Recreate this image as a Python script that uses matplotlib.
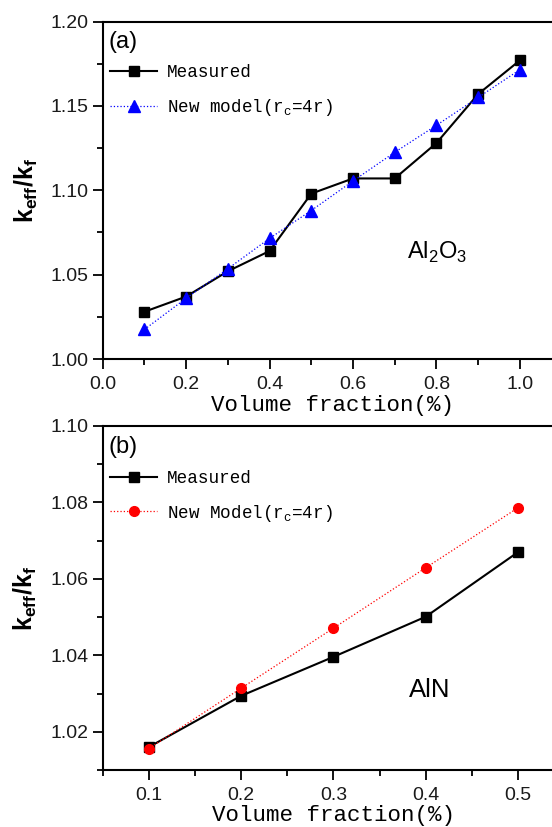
import matplotlib
matplotlib.use("Agg")
import matplotlib.pyplot as plt
from matplotlib.ticker import MultipleLocator, FormatStrFormatter

# panel (a): Al2O3
vf_a = [0.1, 0.2, 0.3, 0.4, 0.5, 0.6, 0.7, 0.8, 0.9, 1.0]
measured_a = [1.028, 1.037, 1.052, 1.064, 1.098, 1.107, 1.107, 1.128, 1.157, 1.177]
model_a = [1.0175, 1.036, 1.0535, 1.0715, 1.088, 1.1055, 1.1225, 1.1385, 1.155, 1.1715]

# panel (b): AlN
vf_b = [0.1, 0.2, 0.3, 0.4, 0.5]
measured_b = [1.016, 1.0294, 1.0396, 1.0501, 1.067]
model_b = [1.0156, 1.0314, 1.0471, 1.0629, 1.0786]

plt.rcParams['font.family'] = ['Liberation Sans', 'DejaVu Sans']
plt.rcParams['axes.linewidth'] = 1.5

MONO = 'Liberation Mono'
TICKCOL = '#1a1a1a'

fig = plt.figure(figsize=(5.52, 8.27), dpi=100)
ax1 = fig.add_axes([0.186, 0.5659, 0.8315, 0.4081])
ax2 = fig.add_axes([0.186, 0.0689, 0.836, 0.416])


def style(ax):
    ax.spines['right'].set_visible(False)
    ax.tick_params(which='both', direction='out', width=1.3, colors='black',
                   labelcolor=TICKCOL, labelsize=14, top=False, right=False)
    ax.tick_params(which='major', length=7)
    ax.tick_params(which='minor', length=4)
    ax.tick_params(axis='x', pad=5)
    ax.tick_params(axis='y', pad=3)


# ---- top panel
ax1.plot(vf_a, measured_a, color='black', lw=1.5, marker='s', ms=7,
         label='Measured', zorder=3)
ax1.plot(vf_a, model_a, color='blue', lw=0.9, ls=':', marker='^', ms=9,
         label='New model(r$_\\mathregular{c}$=4r)', zorder=4)
ax1.set_xlim(0, 1.1)
ax1.set_ylim(1.0, 1.2)
ax1.xaxis.set_major_locator(MultipleLocator(0.2))
ax1.xaxis.set_minor_locator(MultipleLocator(0.1))
ax1.yaxis.set_major_locator(MultipleLocator(0.05))
ax1.yaxis.set_minor_locator(MultipleLocator(0.025))
ax1.xaxis.set_major_formatter(FormatStrFormatter('%.1f'))
ax1.yaxis.set_major_formatter(FormatStrFormatter('%.2f'))
style(ax1)
ax1.set_xticks([0.0, 0.2, 0.4, 0.6, 0.8, 1.0])

# ---- bottom panel
ax2.plot(vf_b, measured_b, color='black', lw=1.5, marker='s', ms=7,
         label='Measured', zorder=3)
ax2.plot(vf_b, model_b, color='red', lw=0.9, ls=':', marker='o', ms=7,
         label='New Model(r$_\\mathregular{c}$=4r)', zorder=4)
ax2.set_xlim(0.05, 0.55)
ax2.set_ylim(1.01, 1.10)
ax2.xaxis.set_major_locator(MultipleLocator(0.1))
ax2.xaxis.set_minor_locator(MultipleLocator(0.05))
ax2.yaxis.set_major_locator(MultipleLocator(0.02))
ax2.yaxis.set_minor_locator(MultipleLocator(0.01))
ax2.xaxis.set_major_formatter(FormatStrFormatter('%.1f'))
ax2.yaxis.set_major_formatter(FormatStrFormatter('%.2f'))
style(ax2)
ax2.set_xticks([0.1, 0.2, 0.3, 0.4, 0.5])
ax2.set_yticks([1.02, 1.04, 1.06, 1.08, 1.10])

for ax, tag, mat, mat_xy, xl_y in [(ax1, '(a)', 'Al$_\\mathregular{2}$O$_\\mathregular{3}$', (0.663, 0.296), -0.139),
                                   (ax2, '(b)', 'AlN', (0.663, 0.212), -0.131)]:
    ax.legend(loc='upper left', bbox_to_anchor=(0.016, 0.873), frameon=False,
              prop={'family': MONO, 'size': 12.7}, handlelength=2.67,
              handletextpad=0.57, labelspacing=0.9, borderaxespad=0,
              borderpad=0, numpoints=1)
    ax.text(0.012, 0.94, tag, transform=ax.transAxes, fontsize=17,
            ha='left', va='center')
    ax.text(mat_xy[0], mat_xy[1], mat, transform=ax.transAxes,
            fontsize=17 if ax is ax1 else 18.5, ha='left', va='baseline')
    ax.set_xlabel('Volume fraction(%)', family=MONO, fontsize=16.2, va='center')
    ax.xaxis.set_label_coords(0.5, xl_y)
    ax.set_ylabel('$\\mathregular{k_{eff}/k_f}$', fontsize=18, fontweight='bold',
                  va='center')
    ax.yaxis.set_label_coords(-0.167, 0.5)

fig.savefig('out.png', dpi=100)
